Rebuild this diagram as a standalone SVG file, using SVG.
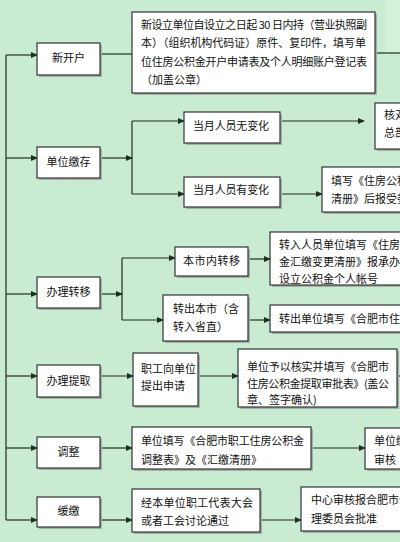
<svg xmlns="http://www.w3.org/2000/svg" width="400" height="542" viewBox="0 0 400 542">
<defs>
<marker id="ah" markerWidth="7" markerHeight="6" refX="6" refY="3" orient="auto" markerUnits="userSpaceOnUse">
<path d="M0,0 L7,3 L0,6 Z" fill="#1f2f1f"/>
</marker>
<style>
.bx{fill:#fff;stroke:#333;stroke-width:1.2}
.sh{fill:#9fb3a4}
.t{font-family:"Noto Sans CJK SC","Liberation Sans",sans-serif;font-size:11px;fill:#111}
.c{text-anchor:middle}
.ln{fill:none;stroke:#1f2f1f;stroke-width:1.2}
.ar{fill:none;stroke:#1f2f1f;stroke-width:1.2;marker-end:url(#ah)}
</style>
</defs>
<rect width="400" height="542" fill="#c8ebd2"/>
<rect x="385" y="0" width="15" height="53" fill="#d3f0db"/>

<g id="connectors">
<path class="ln" d="M6,55 V520"/>
<path class="ar" d="M6,55 H37"/>
<path class="ar" d="M6,158 H37"/>
<path class="ar" d="M6,294 H37"/>
<path class="ar" d="M6,376 H37"/>
<path class="ar" d="M6,448 H37"/>
<path class="ar" d="M6,520 H37"/>
<path class="ln" d="M100,54 H132"/>
<path class="ln" d="M375,53 H400"/>
<path class="ar" d="M100,158 H132"/>
<path class="ln" d="M132,121 V194"/>
<path class="ar" d="M132,121 H184"/>
<path class="ar" d="M132,194 H184"/>
<path class="ar" d="M280,121 H364"/>
<path class="ar" d="M280,194 H322"/>
<path class="ar" d="M100,294 H122"/>
<path class="ln" d="M122,258 V320"/>
<path class="ar" d="M122,258 H175"/>
<path class="ar" d="M122,320 H163"/>
<path class="ar" d="M248,259 H270"/>
<path class="ar" d="M248,320 H270"/>
<path class="ar" d="M100,376 H133"/>
<path class="ar" d="M198,376 H238"/>
<path class="ln" d="M397,376 H400"/>
<path class="ar" d="M100,448 H132"/>
<path class="ar" d="M311,448 H365"/>
<path class="ar" d="M100,520 H132"/>
<path class="ar" d="M260,520 H301"/>
</g>

<g id="n-xinkaihu">
<rect class="sh" x="39" y="45" width="63" height="32"/>
<rect class="bx" x="37" y="43" width="63" height="32"/>
<text class="t c" x="68.5" y="62">新开户</text>
</g>
<g id="n-kaihu-desc">
<rect class="sh" x="134" y="14" width="243" height="81"/>
<rect class="bx" x="132" y="12" width="243" height="81"/>
<text class="t" x="141" y="29" textLength="226">新设立单位自设立之日起 30 日内持（营业执照副</text>
<text class="t" x="141" y="47" textLength="225">本）（组织机构代码证）原件、复印件，填写单</text>
<text class="t" x="141" y="66" textLength="226">位住房公积金开户申请表及个人明细账户登记表</text>
<text class="t" x="141" y="84">（加盖公章）</text>
</g>

<g id="n-jiaocun">
<rect class="sh" x="39" y="149" width="63" height="31"/>
<rect class="bx" x="37" y="147" width="63" height="31"/>
<text class="t c" x="68.5" y="166">单位缴存</text>
</g>
<g id="n-wubianhua">
<rect class="sh" x="186" y="114" width="96" height="31"/>
<rect class="bx" x="184" y="112" width="96" height="31"/>
<text class="t" x="193" y="130" textLength="76">当月人员无变化</text>
</g>
<g id="n-youbianhua">
<rect class="sh" x="186" y="179" width="96" height="30"/>
<rect class="bx" x="184" y="177" width="96" height="30"/>
<text class="t" x="193" y="194" textLength="76">当月人员有变化</text>
</g>
<g id="n-hedui">
<rect class="sh" x="377" y="105" width="40" height="46"/>
<rect class="bx" x="375" y="103" width="40" height="46"/>
<text class="t" x="384" y="119">核对</text>
<text class="t" x="384" y="137">总部</text>
</g>
<g id="n-tianxie">
<rect class="sh" x="324" y="169" width="90" height="45"/>
<rect class="bx" x="322" y="167" width="90" height="45"/>
<text class="t" x="331" y="185">填写《住房公积</text>
<text class="t" x="331" y="203">清册》后报受委</text>
</g>

<g id="n-zhuanyi">
<rect class="sh" x="39" y="279" width="63" height="31"/>
<rect class="bx" x="37" y="277" width="63" height="31"/>
<text class="t c" x="68.5" y="296">办理转移</text>
</g>
<g id="n-benshinei">
<rect class="sh" x="177" y="249" width="73" height="29"/>
<rect class="bx" x="175" y="247" width="73" height="29"/>
<text class="t" x="183" y="265" textLength="57">本市内转移</text>
</g>
<g id="n-zhuanru">
<rect class="sh" x="272" y="234" width="140" height="53"/>
<rect class="bx" x="270" y="232" width="140" height="53"/>
<text class="t" x="279" y="249">转入人员单位填写《住房公积</text>
<text class="t" x="279" y="266">金汇缴变更清册》报承办银行</text>
<text class="t" x="279" y="283">设立公积金个人帐号</text>
</g>
<g id="n-zhuanchu">
<rect class="sh" x="165" y="297" width="85" height="46"/>
<rect class="bx" x="163" y="295" width="85" height="46"/>
<text class="t" x="173" y="313">转出本市（含</text>
<text class="t" x="173" y="331">转入省直）</text>
</g>
<g id="n-zhuanchu-desc">
<rect class="sh" x="272" y="307" width="140" height="27"/>
<rect class="bx" x="270" y="305" width="140" height="27"/>
<text class="t" x="279" y="323">转出单位填写《合肥市住房</text>
</g>

<g id="n-tiqu">
<rect class="sh" x="39" y="367" width="63" height="32"/>
<rect class="bx" x="37" y="365" width="63" height="32"/>
<text class="t c" x="68.5" y="385">办理提取</text>
</g>
<g id="n-zhigong">
<rect class="sh" x="135" y="355" width="65" height="53"/>
<rect class="bx" x="133" y="353" width="65" height="53"/>
<text class="t" x="141" y="373">职工向单位</text>
<text class="t" x="141" y="390">提出申请</text>
</g>
<g id="n-heshi">
<rect class="sh" x="240" y="351" width="159" height="58"/>
<rect class="bx" x="238" y="349" width="159" height="58"/>
<text class="t" x="247" y="371" textLength="142">单位予以核实并填写《合肥市</text>
<text class="t" x="247" y="388" textLength="142">住房公积金提取审批表》(盖公</text>
<text class="t" x="247" y="404">章、签字确认)</text>
</g>

<g id="n-tiaozheng">
<rect class="sh" x="39" y="439" width="63" height="31"/>
<rect class="bx" x="37" y="437" width="63" height="31"/>
<text class="t c" x="68.5" y="456">调整</text>
</g>
<g id="n-tiaozheng-desc">
<rect class="sh" x="134" y="429" width="179" height="42"/>
<rect class="bx" x="132" y="427" width="179" height="42"/>
<text class="t" x="141" y="445" textLength="163">单位填写《合肥市职工住房公积金</text>
<text class="t" x="141" y="464">调整表》及《汇缴清册》</text>
</g>
<g id="n-shenhe">
<rect class="sh" x="367" y="430" width="45" height="41"/>
<rect class="bx" x="365" y="428" width="45" height="41"/>
<text class="t" x="374" y="445">单位缴</text>
<text class="t" x="374" y="464">审核</text>
</g>

<g id="n-huanjiao">
<rect class="sh" x="39" y="499" width="63" height="30"/>
<rect class="bx" x="37" y="497" width="63" height="30"/>
<text class="t c" x="68.5" y="515">缓缴</text>
</g>
<g id="n-taolun">
<rect class="sh" x="134" y="491" width="128" height="43"/>
<rect class="bx" x="132" y="489" width="128" height="43"/>
<text class="t" x="141" y="507" textLength="112">经本单位职工代表大会</text>
<text class="t" x="141" y="525">或者工会讨论通过</text>
</g>
<g id="n-pizhun">
<rect class="sh" x="303" y="489" width="110" height="44"/>
<rect class="bx" x="301" y="487" width="110" height="44"/>
<text class="t" x="311" y="504">中心审核报合肥市住</text>
<text class="t" x="311" y="523">理委员会批准</text>
</g>
</svg>
